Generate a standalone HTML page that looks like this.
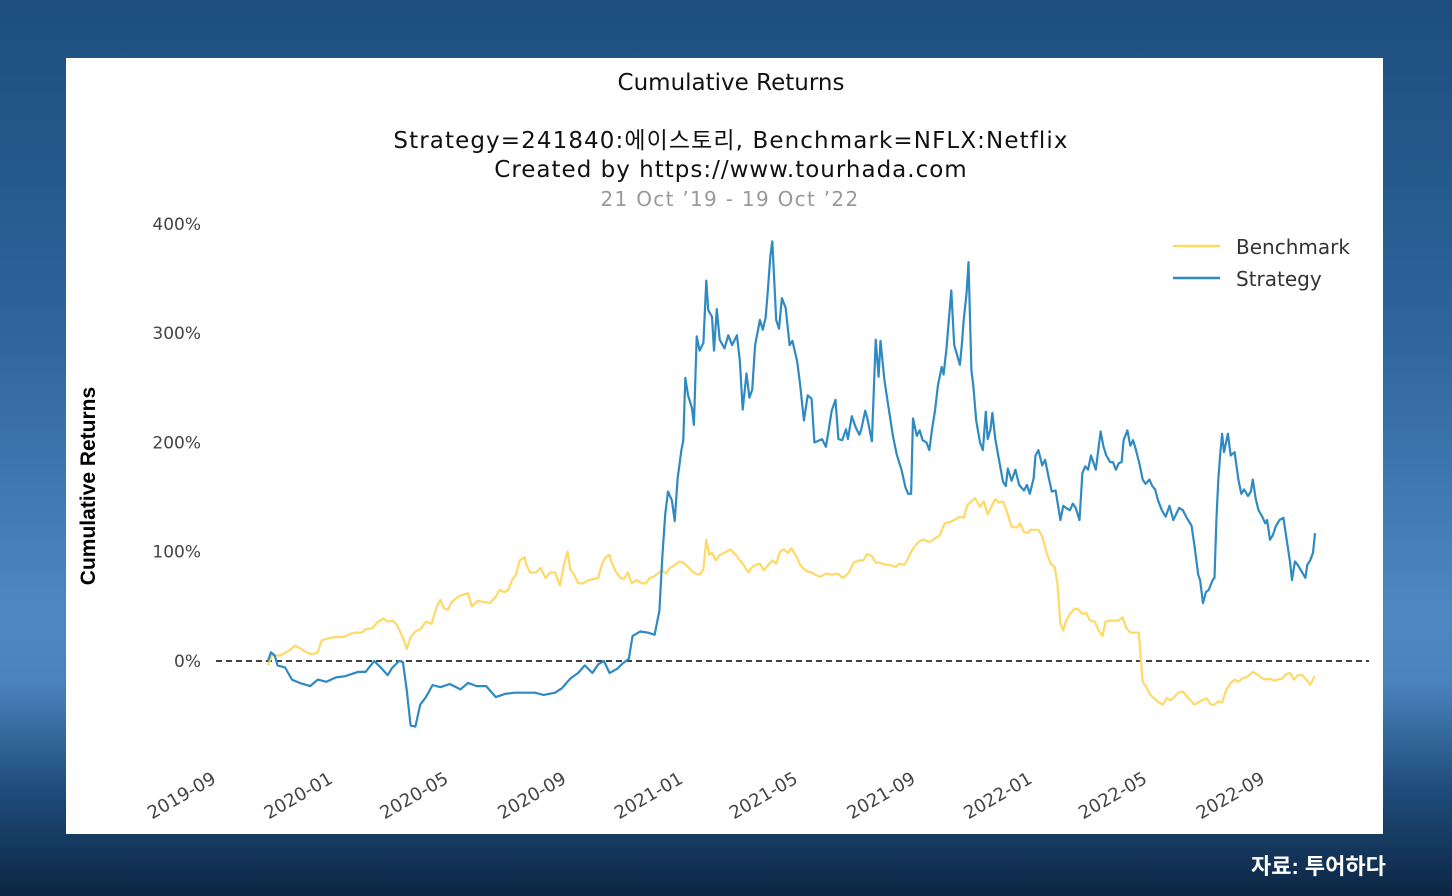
<!DOCTYPE html>
<html><head><meta charset="utf-8">
<style>
html,body{margin:0;padding:0}
body{width:1452px;height:896px;overflow:hidden;position:relative;
background:linear-gradient(180deg,#1d4e7f 0%,#2c6399 35%,#4d88c1 68%,#4a84bd 76%,#1f4d7c 88%,#0c2643 100%);
font-family:"Liberation Sans","Noto Sans CJK KR",sans-serif}
#panel{position:absolute;left:66px;top:58px;width:1317px;height:776px;background:#fff}
#src{position:absolute;left:1251px;top:849px;color:#fff;font-weight:bold;font-size:22px;font-family:"Liberation Sans","Noto Sans CJK KR",sans-serif}
svg text{font-family:"DejaVu Sans","Noto Sans CJK KR",sans-serif}
</style></head>
<body>
<div id="panel"></div>
<svg id="chart" width="1452" height="896" style="position:absolute;left:0;top:0">
<text x="731" y="90" font-size="23" text-anchor="middle" fill="#111">Cumulative Returns</text>
<text x="731" y="148" font-size="23" letter-spacing="1.1" text-anchor="middle" fill="#111">Strategy=241840:에이스토리, Benchmark=NFLX:Netflix</text>
<text x="731" y="177" font-size="23" letter-spacing="1.0" text-anchor="middle" fill="#111">Created by https://www.tourhada.com</text>
<text x="730" y="206" font-size="20" letter-spacing="1.3" text-anchor="middle" fill="#999">21 Oct ’19 - 19 Oct ’22</text>
<text transform="translate(95,486) rotate(-90)" font-size="21" font-weight="bold" text-anchor="middle" fill="#000" style="font-family:'Liberation Sans',sans-serif">Cumulative Returns</text>
<g id="yticks"></g><g id="xticks"></g>
<line x1="216" x2="1369" y1="661" y2="661" stroke="#000" stroke-width="1.6" stroke-dasharray="6,4"/>
<g id="series"></g>
<g>
<line x1="1173" x2="1220" y1="246" y2="246" stroke="#ffd966" stroke-width="2.5"/>
<text x="1236" y="254" font-size="20" fill="#333">Benchmark</text>
<line x1="1173" x2="1220" y1="278" y2="278" stroke="#2f8ac2" stroke-width="2.5"/>
<text x="1236" y="286" font-size="20" fill="#333">Strategy</text>
</g>
</svg>
<div id="src">자료: 투어하다</div>
<script>
const yTicks=[0,100,200,300,400];
const xTickLabels=["2019-09","2020-01","2020-05","2020-09","2021-01","2021-05","2021-09","2022-01","2022-05","2022-09"];
const startDate="2019-10-21";
const stratDays=[0,3,7,10,18,25,33,44,52,61,71,80,94,102,111,118,125,130,137,141,145,149,154,159,165,172,180,190,201,209,218,228,238,248,258,269,279,288,300,307,316,324,331,339,345,351,357,365,371,377,381,389,397,404,409,412,415,418,422,425,428,432,434,436,439,443,445,448,451,455,458,460,464,466,469,472,477,481,485,490,493,496,500,503,506,509,514,517,520,522,525,527,531,534,537,541,545,548,553,556,560,564,568,571,574,579,583,586,589,593,596,600,604,606,610,614,618,620,624,626,631,635,638,640,644,647,653,657,662,666,669,672,674,678,681,684,688,691,694,697,700,704,706,709,712,714,717,723,725,727,730,732,735,737,740,744,747,750,752,755,757,760,763,768,771,773,777,781,785,790,793,796,800,802,805,809,812,816,819,823,828,831,834,838,841,844,848,851,854,857,860,865,868,870,873,876,880,883,886,889,892,894,898,901,904,907,911,914,917,921,924,927,930,934,938,942,946,952,956,960,965,968,972,974,977,980,983,987,989,991,993,995,997,999,1003,1006,1010,1014,1017,1020,1024,1027,1029,1032,1035,1039,1042,1044,1047,1050,1053,1057,1061,1064,1068,1070,1073,1076,1080,1084,1086,1089,1092,1094];
const stratValues=[0,8,5,-4,-6,-17,-20,-23,-17,-19,-15,-14,-10,-10,0,-6,-13,-6,0,-1,-27,-59,-60,-40,-33,-22,-24,-21,-26,-20,-23,-23,-33,-30,-29,-29,-29,-31,-29,-25,-16,-11,-4,-11,-3,0,-11,-7,-2,2,23,27,26,24,46,95,134,155,147,128,167,193,202,259,243,231,216,297,284,291,348,321,315,284,322,294,286,298,289,298,275,230,263,241,248,289,312,303,314,336,371,384,312,304,332,323,289,293,274,253,220,243,240,200,201,203,196,212,229,239,203,202,212,203,224,214,207,212,229,223,201,294,260,293,258,240,206,189,175,159,153,153,222,206,211,202,200,193,213,229,252,269,262,286,318,339,289,271,289,312,337,365,266,252,220,200,193,228,203,212,227,203,188,164,160,176,165,175,161,156,161,153,167,188,193,179,184,167,155,156,129,142,140,138,144,140,129,172,178,175,188,175,196,210,196,188,182,182,175,181,182,202,211,197,202,193,179,166,162,166,160,157,147,138,132,142,129,140,138,131,124,106,79,74,53,63,65,74,76,129,166,189,208,191,208,188,191,166,153,157,151,155,166,149,138,132,126,129,111,115,123,129,131,114,90,74,91,88,82,76,88,92,99,117];
const benchDays=[0,4,13,23,28,33,40,46,52,56,65,71,79,86,92,98,102,109,115,121,125,130,134,138,142,145,149,154,159,165,171,176,180,184,188,192,199,205,209,213,219,226,232,238,242,247,251,255,259,263,268,270,274,280,285,290,295,300,305,309,313,316,320,324,329,335,341,345,349,353,357,359,364,368,372,376,380,385,391,395,399,403,407,412,416,420,424,430,434,439,443,447,451,455,458,461,464,468,472,477,483,489,493,497,502,506,510,514,518,522,527,531,535,539,543,547,552,556,560,564,568,572,577,583,589,595,601,607,612,618,622,626,631,635,639,645,649,656,660,665,668,672,676,681,685,691,695,702,707,712,717,723,727,731,735,739,744,748,752,757,760,764,768,772,777,782,786,790,794,797,801,805,809,814,818,822,825,828,831,834,838,843,847,851,855,859,864,868,872,875,880,885,889,893,897,901,906,910,912,914,918,922,926,931,935,939,943,947,951,956,960,964,968,972,976,981,985,989,993,997,1001,1006,1010,1014,1018,1024,1029,1035,1039,1043,1047,1051,1055,1060,1064,1068,1072,1076,1081,1085,1089,1093,1094];
const benchValues=[-4,5,5,10,14,12,8,6,8,19,21,22,22,25,26,26,29,30,36,39,36,37,34,27,19,11,22,27,29,36,34,49,56,48,47,54,59,61,62,50,55,54,53,59,65,63,65,74,79,92,95,88,81,81,85,76,81,81,69,87,100,83,79,71,71,74,75,76,89,95,97,90,81,76,75,81,71,74,71,71,76,77,80,83,80,85,87,91,90,86,82,80,79,84,111,97,99,92,97,99,102,97,92,88,81,86,88,89,83,87,92,89,100,102,99,103,96,88,84,82,81,79,77,80,79,80,76,81,90,92,92,98,96,90,90,88,88,86,89,88,92,100,105,110,111,109,111,115,126,127,129,132,131,143,146,149,141,146,134,143,148,145,146,137,123,122,126,118,117,120,120,120,114,98,89,86,70,34,28,37,43,48,47,43,44,37,36,28,23,36,37,37,37,40,30,26,26,26,1,-19,-24,-31,-34,-38,-40,-34,-36,-33,-29,-28,-32,-36,-40,-38,-36,-34,-40,-40,-37,-38,-27,-20,-17,-19,-16,-14,-10,-13,-16,-17,-16,-18,-17,-16,-12,-11,-17,-13,-13,-17,-22,-15,-14];

const NS="http://www.w3.org/2000/svg";
const t0=Date.parse(startDate+"T00:00:00Z");
const PX_PER_DAY=0.957, X0=268;
function xScale(day){return X0+day*PX_PER_DAY;}
function yScale(v){return 661-v*1.093;}
function dateDay(s){return (Date.parse(s+"-01T00:00:00Z")-t0)/86400000;}

const yg=document.getElementById('yticks');
yTicks.forEach(v=>{
  const t=document.createElementNS(NS,'text');
  t.setAttribute('x',201);t.setAttribute('y',yScale(v)+6);
  t.setAttribute('text-anchor','end');t.setAttribute('font-size','17');t.setAttribute('fill','#444');
  t.textContent=v+'%';
  
  
  yg.appendChild(t);
});
const xg=document.getElementById('xticks');
xTickLabels.forEach(lbl=>{
  const x=xScale(dateDay(lbl));
  const t=document.createElementNS(NS,'text');
  t.setAttribute('transform','translate('+(x-3)+',782) rotate(-30)');
  t.setAttribute('text-anchor','end');t.setAttribute('font-size','18');t.setAttribute('fill','#444');
  t.textContent=lbl;
  
  
  xg.appendChild(t);
});
const sg=document.getElementById('series');
function drawLine(days,vals,color,name){
  let d='';
  days.forEach((dd,i)=>{d+=(i?'L':'M')+xScale(dd).toFixed(1)+','+yScale(vals[i]).toFixed(1);});
  const p=document.createElementNS(NS,'path');
  p.setAttribute('d',d);p.setAttribute('fill','none');p.setAttribute('stroke',color);
  p.setAttribute('stroke-width','2.2');p.setAttribute('stroke-linejoin','round');
  
  
  sg.appendChild(p);
}
drawLine(benchDays,benchValues,'#ffd966','benchmark-line');
drawLine(stratDays,stratValues,'#2f8ac2','strategy-line');
</script>
</body></html>
